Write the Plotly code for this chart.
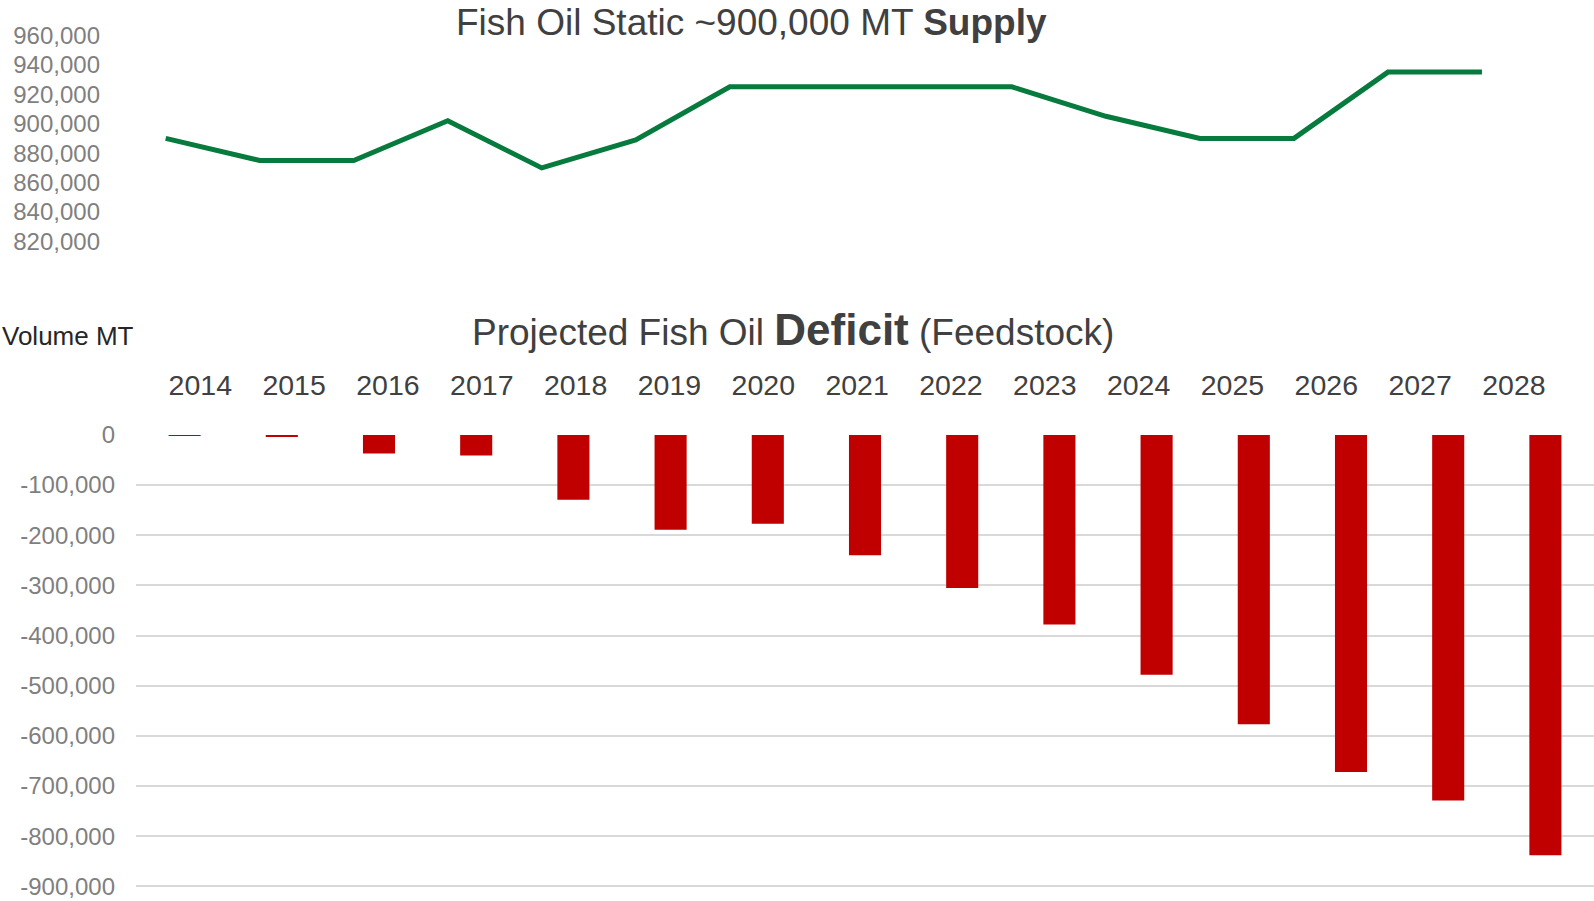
import plotly.graph_objects as go

# ---- data ----
years = ["2014", "2015", "2016", "2017", "2018", "2019", "2020", "2021",
         "2022", "2023", "2024", "2025", "2026", "2027", "2028"]
supply_mt = [890000, 875000, 875000, 902000, 870000, 889000, 925000, 925000,
             925000, 925000, 905000, 890000, 890000, 935000, 935000]
deficit_mt = [-1500, -4000, -37000, -41000, -129000, -189000, -177000, -240000,
              -305000, -378000, -478000, -577000, -672000, -729000, -838000]
supply_ticks = list(range(820000, 960001, 20000))
deficit_ticks = list(range(-900000, 1, 100000))

W, H = 1594, 901
FONT = "Liberation Sans, Arial, sans-serif"
idx = list(range(len(years)))


def set_px(p):
    # compensate for the vertical scaling seen in the rendered page
    return (p - 11.7) / 0.972


def px_y(p):
    return 1 - set_px(p) / H


# bottom panel: value 0 at ~433.5 px (reference pixels), axis bottom at paper edge
z0 = set_px(433.5)
top2 = 2000
bot2 = -903500
k = (H - z0) / (-bot2)          # set-px per unit
dom2_top = 1 - (z0 - top2 * k) / H

fig = go.Figure()
fig.add_trace(go.Scatter(x=idx, y=supply_mt, mode="lines",
                         line=dict(color="#077A3D", width=5),
                         xaxis="x", yaxis="y", hoverinfo="skip"))
fig.add_trace(go.Bar(x=idx, y=deficit_mt, marker=dict(color="#C00000", line=dict(width=0)),
                     width=0.33, xaxis="x2", yaxis="y2"))
# invisible helper trace for the year-label axis
fig.add_trace(go.Scatter(x=idx, y=[0] * len(idx), mode="markers",
                         marker=dict(opacity=0), xaxis="x3", yaxis="y2",
                         hoverinfo="skip"))

fig.update_layout(
    width=W, height=H,
    margin=dict(l=0, r=0, t=0, b=0),
    paper_bgcolor="white", plot_bgcolor="white",
    showlegend=False,
    font=dict(family=FONT),
    xaxis=dict(domain=[101 / W, 1560 / W], range=[-0.688, 14.83], visible=False,
               anchor="y"),
    yaxis=dict(domain=[px_y(239.7), px_y(33)], range=[820000, 960000],
               tickmode="array", tickvals=supply_ticks,
               ticktext=[f"{v:,}" for v in supply_ticks],
               showgrid=False, zeroline=False, showline=False, ticks="",
               tickfont=dict(size=24, color="#7F7F7F", family=FONT),
               anchor="x"),
    xaxis2=dict(domain=[136 / W, 1], range=[-0.5, 14.5],
                showticklabels=False, showgrid=False, zeroline=False,
                showline=False, ticks="", anchor="y2"),
    yaxis2=dict(domain=[0, dom2_top], range=[bot2, top2],
                tickmode="array", tickvals=deficit_ticks,
                ticktext=[f"{v:,}" for v in deficit_ticks],
                showgrid=True, gridcolor="#D9D9D9", gridwidth=1.5,
                zeroline=False, showline=False, ticks="",
                ticklabelstandoff=20,
                tickfont=dict(size=24, color="#7F7F7F", family=FONT),
                anchor="x2"),
    xaxis3=dict(overlaying="x2", side="top", anchor="free", position=px_y(399),
                range=[-0.685, 14.853], tickmode="array", tickvals=idx,
                ticktext=years, showgrid=False, zeroline=False, showline=False,
                ticks="", tickfont=dict(size=28.5, color="#404040", family=FONT)),
    annotations=[
        dict(text="Fish Oil Static ~900,000 MT <b>Supply</b>",
             x=751.5 / W, y=px_y(20.4), xref="paper", yref="paper",
             xanchor="center", yanchor="middle", showarrow=False,
             font=dict(size=37, color="#404040", family=FONT)),
        dict(text="Projected Fish Oil <span style='font-size:44px'><b>Deficit</b></span> (Feedstock)",
             x=793 / W, y=px_y(328), xref="paper", yref="paper",
             xanchor="center", yanchor="middle", showarrow=False,
             font=dict(size=37, color="#404040", family=FONT)),
        dict(text="Volume MT", x=0, y=px_y(334.5), xref="paper", yref="paper",
             xanchor="left", yanchor="middle", showarrow=False,
             font=dict(size=26, color="#262626", family=FONT)),
    ],
)

fig.write_html("out.html")
